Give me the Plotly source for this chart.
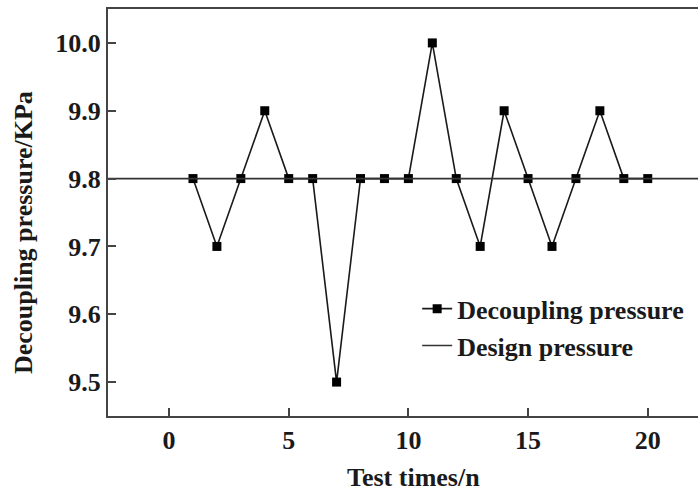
import plotly.graph_objects as go

test_times = list(range(1, 21))
decoupling = [9.8, 9.7, 9.8, 9.9, 9.8, 9.8, 9.5, 9.8, 9.8, 9.8,
              10.0, 9.8, 9.7, 9.9, 9.8, 9.7, 9.8, 9.9, 9.8, 9.8]
design_x = [-3, 24]
design_y = [9.8, 9.8]
x_ticks = [0, 5, 10, 15, 20]
y_ticks = [9.5, 9.6, 9.7, 9.8, 9.9, 10.0]

FONT = "Liberation Serif"
fig = go.Figure()
fig.add_trace(go.Scatter(
    x=test_times, y=decoupling, mode="lines+markers",
    name="<b>Decoupling pressure</b>",
    line=dict(color="#1a1a1a", width=1.6),
    marker=dict(symbol="square", size=9, color="#000000"),
))
fig.add_trace(go.Scatter(
    x=design_x, y=design_y, mode="lines",
    name="<b>Design pressure</b>",
    line=dict(color="#333333", width=1.6),
))

fig.update_layout(
    width=698, height=493,
    margin=dict(l=108, r=0, t=9, b=77),
    paper_bgcolor="white", plot_bgcolor="white",
    font=dict(family=FONT, size=26, color="#1a1a1a"),
    showlegend=True,
    legend=dict(x=0.524, y=0.218, xanchor="left", yanchor="middle",
                bgcolor="rgba(0,0,0,0)", font=dict(size=26, family=FONT),
                tracegroupgap=0, itemsizing="trace"),
    xaxis=dict(range=[-2.55, 22.1], tickvals=x_ticks,
               ticktext=[f"<b>{v}</b>" for v in x_ticks],
               ticks="inside", ticklen=8, tickwidth=2, tickcolor="#444",
               showline=True, linecolor="#444", linewidth=2, mirror=True,
               showgrid=False, zeroline=False),
    yaxis=dict(range=[9.45, 10.05], tickvals=y_ticks,
               ticktext=[f"<b>{v:.1f}</b>" for v in y_ticks],
               ticks="inside", ticklen=8, tickwidth=2, tickcolor="#444",
               showline=True, linecolor="#444", linewidth=2, mirror=False,
               showgrid=False, zeroline=False),
)
fig.add_annotation(text="<b>Test times/n</b>", xref="x", yref="paper",
                   x=10.2, y=-0.152, showarrow=False, yanchor="middle",
                   font=dict(family=FONT, size=26, color="#1a1a1a"))
fig.add_annotation(text="<b>Decoupling pressure/KPa</b>", xref="paper", yref="y",
                   x=-0.142, y=9.72, showarrow=False, textangle=-90,
                   xanchor="center", yanchor="middle",
                   font=dict(family=FONT, size=26, color="#1a1a1a"))
fig.write_html("out.html")
